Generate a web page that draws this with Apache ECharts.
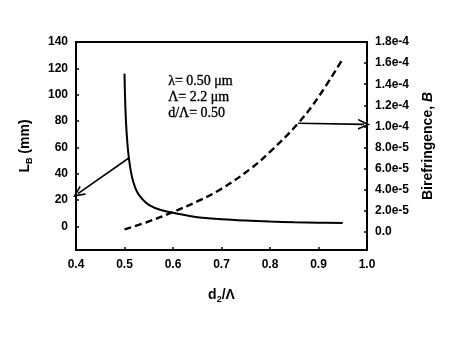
<!DOCTYPE html>
<html>
<head>
<meta charset="utf-8">
<script src="https://cdn.jsdelivr.net/npm/echarts@6/dist/echarts.min.js"></script>
<style>
  html, body { margin: 0; padding: 0; background: #fff; }
  #chart { width: 474px; height: 338px; }
</style>
</head>
<body>
<div id="chart"></div>
<script>
// Beat length L_B (mm) versus d2/Λ (left axis)
const beatX = [0.500, 0.501, 0.503, 0.506, 0.509, 0.513, 0.518, 0.525, 0.535, 0.550, 0.575, 0.600, 0.650, 0.700, 0.750, 0.800, 0.850, 0.900, 0.950];
const beatLength = [116, 100, 80, 63, 52, 42, 34, 27, 21.5, 16.5, 12.5, 10.5, 7.0, 5.5, 4.5, 3.8, 3.3, 2.9, 2.6];

// Birefringence B versus d2/Λ (right axis)
const biX = [0.500, 0.550, 0.600, 0.650, 0.700, 0.760, 0.800, 0.858, 0.900, 0.950];
const birefringence = [2.6e-6, 1.0e-5, 1.9e-5, 2.9e-5, 4.1e-5, 6.0e-5, 7.6e-5, 1.03e-4, 1.28e-4, 1.64e-4];

// Tick labels
const xTicks = [0.4, 0.5, 0.6, 0.7, 0.8, 0.9, 1.0];
const leftTicks = [0, 20, 40, 60, 80, 100, 120, 140];
const rightTicks = [0, 2e-5, 4e-5, 6e-5, 8e-5, 1.0e-4, 1.2e-4, 1.4e-4, 1.6e-4, 1.8e-4];

// Arrow ends: from a point on each curve to its axis
const leftArrow = [[0.509, 52], [0.404, 25]];
const rightArrow = [[0.858, 1.03e-4], [0.994, 1.02e-4]];

// Parameter box lines
const paramLines = ['λ= 0.50 μm', 'Λ= 2.2 μm', 'd/Λ= 0.50'];

const FONT = 'Liberation Sans, Arial, Helvetica, sans-serif';
// open V-shaped arrow head, tip at the top
const chevron = 'path://M5,0 L10,10 L8.4,10 L5,3.2 L1.6,10 L0,10 Z';

const chart = echarts.init(document.getElementById('chart'), null, { renderer: 'canvas' });

const tickStyle = { show: true, inside: true, length: 3, lineStyle: { color: '#000', width: 1.5 } };
const labelBase = { color: '#000', fontFamily: FONT, fontWeight: 'bold', fontSize: 12 };

const arrowMark = (pts) => ({
  silent: true, symbol: ['none', chevron], symbolSize: [11, 12],
  label: { show: false },
  lineStyle: { color: '#000', width: 1.6, type: 'solid' },
  data: [[{ coord: pts[0] }, { coord: pts[1] }]]
});

const option = {
  animation: false,
  backgroundColor: '#fff',
  grid: {
    left: 76, right: 107, top: 42, bottom: 88,
    show: true, borderColor: '#000', borderWidth: 2, backgroundColor: 'transparent'
  },
  xAxis: {
    type: 'value', min: 0.4, max: 1.0, interval: 0.1,
    splitLine: { show: false },
    axisLine: { show: true, onZero: false, lineStyle: { color: '#000', width: 2 } },
    axisTick: Object.assign({}, tickStyle, { customValues: xTicks }),
    axisLabel: Object.assign({}, labelBase, {
      margin: 9, customValues: xTicks,
      formatter: v => v.toFixed(1)
    }),
    name: '{a|d}{s|2}{a|/Λ}',
    nameLocation: 'middle', nameGap: 37,
    nameTextStyle: {
      rich: {
        a: { fontFamily: FONT, fontWeight: 'bold', fontSize: 14, color: '#000' },
        s: { fontFamily: FONT, fontWeight: 'bold', fontSize: 9, color: '#000', padding: [8, 0, 0, 0] }
      }
    }
  },
  yAxis: [
    {
      type: 'value', min: -17.8, max: 140, position: 'left',
      splitLine: { show: false },
      axisLine: { show: true, onZero: false, lineStyle: { color: '#000', width: 2 } },
      axisTick: Object.assign({}, tickStyle, { customValues: leftTicks }),
      axisLabel: Object.assign({}, labelBase, { margin: 8, customValues: leftTicks }),
      name: '{a|L}{s|B}{a| (mm)}',
      nameLocation: 'middle', nameRotate: 90, nameGap: 42,
      nameTextStyle: {
        rich: {
          a: { fontFamily: FONT, fontWeight: 'bold', fontSize: 14, color: '#000' },
          s: { fontFamily: FONT, fontWeight: 'bold', fontSize: 9, color: '#000', padding: [8, 0, 0, 0] }
        }
      }
    },
    {
      type: 'value', min: -1.7e-5, max: 1.8e-4, position: 'right',
      splitLine: { show: false },
      axisLine: { show: true, onZero: false, lineStyle: { color: '#000', width: 2 } },
      axisTick: Object.assign({}, tickStyle, { customValues: rightTicks }),
      axisLabel: Object.assign({}, labelBase, {
        margin: 8, customValues: rightTicks,
        formatter: v => (Math.abs(v) < 1e-12 ? '0.0' : v.toExponential(1))
      }),
      name: '{a|Birefringence, }{b|B}',
      nameLocation: 'middle', nameRotate: 90, nameGap: 54,
      nameTextStyle: {
        rich: {
          a: { fontFamily: FONT, fontWeight: 'bold', fontSize: 14, color: '#000' },
          b: { fontFamily: FONT, fontWeight: 'bold', fontStyle: 'italic', fontSize: 14, color: '#000' }
        }
      }
    }
  ],
  graphic: [
    {
      type: 'text', left: 168, top: 74, silent: true,
      style: {
        text: paramLines.join('\n'),
        font: '14px "Liberation Serif", "Times New Roman", serif',
        fill: '#000', stroke: '#000', lineWidth: 0.35, lineHeight: 15.6
      }
    }
  ],
  series: [
    {
      name: 'L_B', type: 'line', yAxisIndex: 0, clip: false,
      data: beatX.map((x, i) => [x, beatLength[i]]),
      showSymbol: false, smooth: 0.4,
      lineStyle: { color: '#000', width: 2 },
      markLine: arrowMark(leftArrow)
    },
    {
      name: 'B', type: 'line', yAxisIndex: 1, clip: false,
      data: biX.map((x, i) => [x, birefringence[i]]),
      showSymbol: false, smooth: 0.4,
      lineStyle: { color: '#000', width: 2.4, type: [7, 4] },
      markLine: arrowMark(rightArrow)
    }
  ]
};

chart.setOption(option);
</script>
</body>
</html>
